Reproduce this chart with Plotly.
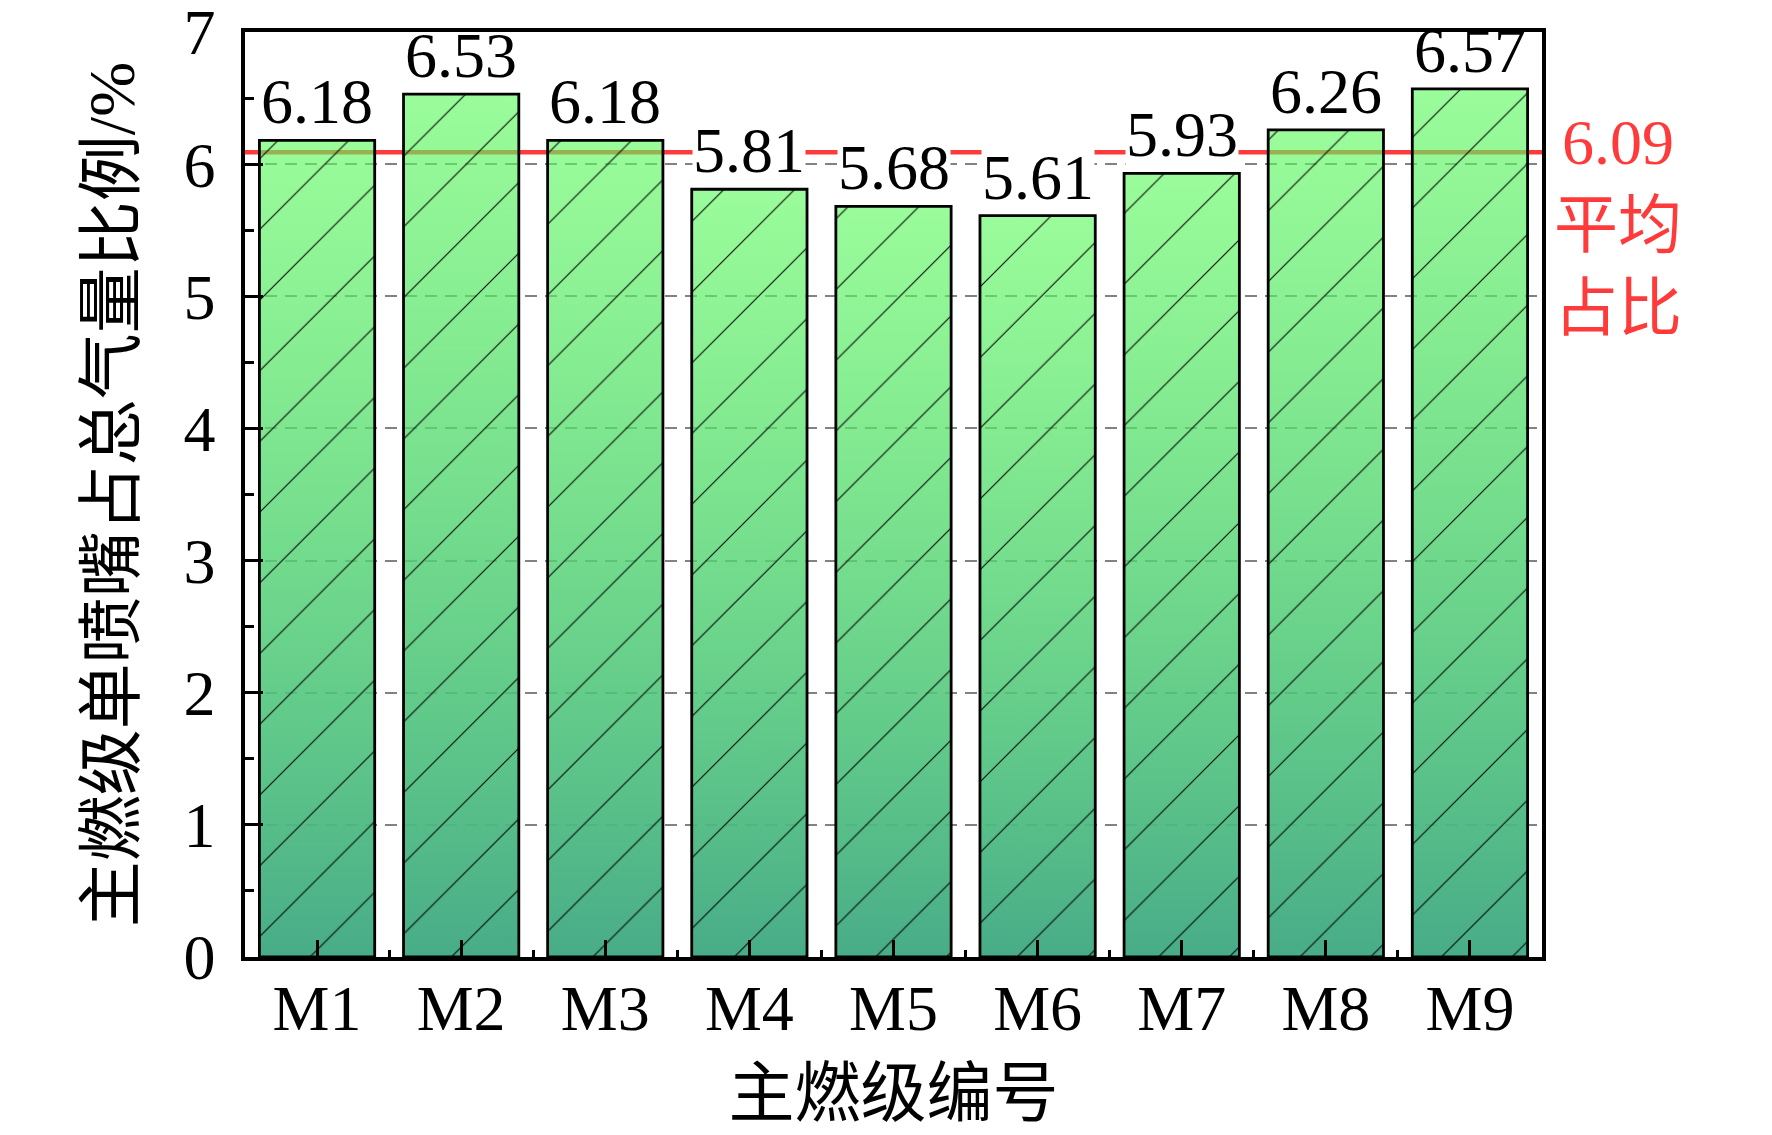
import plotly.graph_objects as go

# ---- data ----
categories = ["M1", "M2", "M3", "M4", "M5", "M6", "M7", "M8", "M9"]
values = [6.18, 6.53, 6.18, 5.81, 5.68, 5.61, 5.93, 6.26, 6.57]
average_value = 6.09
average_label = "平均<br>占比"
x_title = "主燃级编号"
y_title = "主燃级单喷嘴占总气量比例/%"
y_ticks = [0, 1, 2, 3, 4, 5, 6, 7]

# ---- style ----
SERIF = "Liberation Serif, Times New Roman, serif"
MIXED = "Liberation Serif, Noto Sans CJK SC, serif"
CJK = "Noto Sans CJK SC, sans-serif"
FS = 64
BAR_W = 0.8
RED = "rgb(255,58,58)"

idx = list(range(len(categories)))


def bar_outline(i, v):
    xs = [i - BAR_W / 2, i - BAR_W / 2, i + BAR_W / 2, i + BAR_W / 2, i - BAR_W / 2]
    ys = [0, v, v, 0, 0]
    return xs, ys


fig = go.Figure()

# gradient fills (one per bar)
for i, v in zip(idx, values):
    xs, ys = bar_outline(i, v)
    fig.add_trace(go.Scatter(
        x=xs, y=ys, mode="lines", fill="toself",
        line=dict(width=0, color="rgba(0,0,0,0)"),
        fillgradient=dict(
            type="vertical", start=0, stop=v,
            colorscale=[[0, "rgba(72,172,136,1)"], [1, "rgba(92,250,92,0.62)"]],
        ),
        hoverinfo="skip", showlegend=False,
    ))

# hatch + black outline on top of the gradient
for i, v, name in zip(idx, values, categories):
    xs, ys = bar_outline(i, v)
    fig.add_trace(go.Scatter(
        x=xs, y=ys, mode="lines", fill="toself",
        fillcolor="rgba(0,0,0,0)",
        fillpattern=dict(shape="/", fgcolor="black", fgopacity=0.95, size=50, solidity=0.022,
                         fillmode="replace"),
        line=dict(width=2.8, color="black"),
        name=name, hoverinfo="skip", showlegend=False,
    ))

# average line
fig.add_shape(type="line", xref="paper", x0=0, x1=1, yref="y", y0=average_value, y1=average_value,
              layer="between", line=dict(color=RED, width=4.5))

# value labels
for i, v in zip(idx, values):
    fig.add_annotation(
        x=i, y=v, xref="x", yref="y", text=f"{v:.2f}", showarrow=False,
        yanchor="bottom", xanchor="center", yshift=2,
        font=dict(family=SERIF, size=FS, color="black"),
        bgcolor="white" if v < average_value else "rgba(0,0,0,0)",
        borderpad=0,
    )

# average label on the right
fig.add_annotation(
    x=1.0586, xref="paper", y=average_value, yref="y",
    text=f"{average_value:.2f}<br>{average_label}", showarrow=False,
    xanchor="center", yanchor="top", yshift=47, align="center",
    font=dict(family=MIXED, size=FS, color=RED),
)

# page body has an 8px default margin, so the figure is sized to fit the window
fig.update_layout(
    width=1764, height=1127,
    margin=dict(l=237, r=230, t=24, b=178, autoexpand=False),
    paper_bgcolor="white", plot_bgcolor="white",
    font=dict(family=SERIF, size=FS, color="black"),
)

fig.update_xaxes(
    range=[-0.5, len(categories) - 0.5],
    tickmode="array", tickvals=idx, ticktext=categories,
    ticks="inside", ticklen=17, tickwidth=3, tickcolor="black",
    minor=dict(ticks="inside", ticklen=7, tickwidth=3, tickcolor="black", tickmode="linear",
               tick0=0.5, dtick=1, showgrid=False),
    showline=True, linewidth=3.5, linecolor="black", mirror=True,
    showgrid=False, zeroline=False, automargin=False,
    tickfont=dict(family=SERIF, size=FS, color="black"),
    ticklabelstandoff=-8,
    title=dict(text=x_title, font=dict(family=CJK, size=66, color="black"), standoff=22),
)

fig.update_yaxes(
    range=[0, 7],
    tickmode="array", tickvals=y_ticks,
    ticks="inside", ticklen=18, tickwidth=3, tickcolor="black",
    minor=dict(ticks="inside", ticklen=9, tickwidth=3, tickcolor="black", tickmode="linear",
               tick0=0, dtick=0.5, showgrid=False),
    showline=True, linewidth=3.5, linecolor="black", mirror=True,
    showgrid=True, gridcolor="rgb(130,130,130)", gridwidth=2, griddash="12px,8px",
    zeroline=False, automargin=False,
    tickfont=dict(family=SERIF, size=FS, color="black"),
    ticklabelstandoff=13,
    ticklabeloverflow="allow",
    title=dict(text=y_title, font=dict(family=MIXED, size=66, color="black"), standoff=28),
)

fig.write_html("out.html")
